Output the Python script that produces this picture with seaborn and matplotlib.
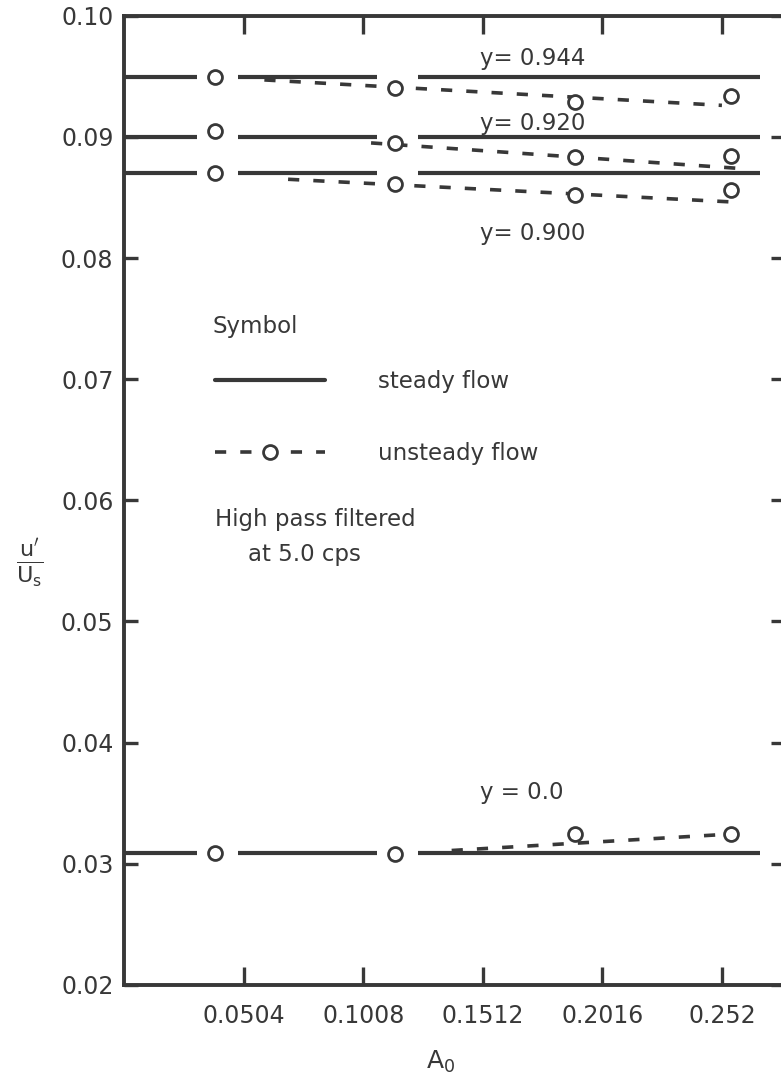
import numpy as np
import pandas as pd
import matplotlib
matplotlib.use("Agg")
import matplotlib.pyplot as plt
import seaborn as sns
from matplotlib.lines import Line2D

# Oscillation amplitude A0 at which the unsteady runs were measured
a0 = [0.038, 0.114, 0.190, 0.256]

# Probe positions
positions = ["0.944", "0.920", "0.900", "0.0"]
position_labels = ["y= 0.944", "y= 0.920", "y= 0.900", "y = 0.0"]
label_a0 = [0.150, 0.150, 0.150, 0.150]
label_u = [0.0965, 0.0911, 0.0820, 0.0359]

# Steady-flow turbulence intensity u'/Us at each position
steady = [0.0949, 0.0900, 0.0870, 0.0309]
steady_end_a0 = 0.268

# Unsteady-flow turbulence intensity u'/Us
unsteady_0944 = [0.0949, 0.0940, 0.0929, 0.0934]
unsteady_0920 = [0.0905, 0.0895, 0.0883, 0.0884]
unsteady_0900 = [0.0870, 0.0861, 0.0852, 0.0856]
unsteady_0000 = [0.0309, 0.0308, 0.0325, 0.0325]

# Straight trend lines drawn through the unsteady data
trend_start_a0 = [0.059, 0.104, 0.069, 0.138]
trend_end_a0 = [0.252, 0.259, 0.259, 0.251]
trend_start_u = [0.0947, 0.0895, 0.0865, 0.0311]
trend_end_u = [0.0926, 0.0874, 0.0846, 0.0324]

x_ticks = [0.0504, 0.1008, 0.1512, 0.2016, 0.252]
x_tick_labels = ["0.0504", "0.1008", "0.1512", "0.2016", "0.252"]
y_ticks = [0.02, 0.03, 0.04, 0.05, 0.06, 0.07, 0.08, 0.09, 0.10]
y_tick_labels = ["0.02", "0.03", "0.04", "0.05", "0.06", "0.07", "0.08", "0.09", "0.10"]

ink = "#383838"
dash = (0, (3.1, 3.9))

sns.set_theme(style="ticks")
plt.rcParams["font.family"] = ["DejaVu Sans"]
plt.rcParams["mathtext.fontset"] = "dejavusans"

fig = plt.figure(figsize=(7.81, 10.76), dpi=100, facecolor="white")
ax = fig.add_axes([0.1594, 0.0846, 0.8457, 0.9008])
ax.set_facecolor("white")

# steady-flow lines, interrupted where the unsteady symbols sit
gap_left, gap_right = 0.0075, 0.0100
breaks = a0[:2]
seg_start = [0.0] + [b + gap_right for b in breaks]
seg_end = [b - gap_left for b in breaks] + [steady_end_a0]
for level in steady:
    ax.hlines([level] * len(seg_start), seg_start, seg_end, color=ink,
              lw=3.0, capstyle="butt", zorder=2)

# unsteady trend lines
trend_df = pd.DataFrame({
    "A0": [v for pair in zip(trend_start_a0, trend_end_a0) for v in pair],
    "u": [v for pair in zip(trend_start_u, trend_end_u) for v in pair],
    "position": [p for p in positions for _ in range(2)],
})
sns.lineplot(data=trend_df, x="A0", y="u", units="position", estimator=None,
             sort=False, color=ink, lw=2.6, linestyle=dash, legend=False,
             ax=ax, zorder=3)

# unsteady data symbols
pts_df = pd.DataFrame({
    "A0": a0 * 4,
    "u": unsteady_0944 + unsteady_0920 + unsteady_0900 + unsteady_0000,
    "position": [p for p in positions for _ in a0],
})
sns.scatterplot(data=pts_df, x="A0", y="u", marker="o", s=100, color="white",
                edgecolor=ink, linewidth=2.0, legend=False, ax=ax, zorder=4)

for txt, xa, yu in zip(position_labels, label_a0, label_u):
    ax.text(xa, yu, txt, ha="left", va="center", fontsize=16.5, color=ink)

ax.set_xlim(0, 0.2786)
ax.set_ylim(0.02, 0.10)
ax.set_xticks(x_ticks)
ax.set_xticklabels(x_tick_labels)
ax.set_yticks(y_ticks)
ax.set_yticklabels(y_tick_labels)
ax.tick_params(axis="x", direction="in", length=13, width=2.4, color=ink,
               top=True, pad=14, labelsize=17, labelcolor=ink)
ax.tick_params(axis="y", direction="in", length=10, width=2.4, color=ink,
               right=True, pad=8, labelsize=17, labelcolor=ink)
for side in ["left", "bottom", "top", "right"]:
    ax.spines[side].set_linewidth(2.8)
    ax.spines[side].set_color(ink)

ax.set_xlabel(r"$\mathregular{A_0}$", fontsize=18, color=ink)
ax.xaxis.set_label_coords(0.478, -0.079)
ax.xaxis.label.set_va("center")
ax.set_ylabel(r"$\frac{\mathrm{u'}}{\mathrm{U_s}}$", fontsize=23, color=ink,
              rotation=0)
ax.yaxis.set_label_coords(-0.143, 0.436)
ax.yaxis.label.set_va("center")
ax.yaxis.label.set_ha("center")

# key
ax.text(0.134, 0.679, "Symbol", transform=ax.transAxes, ha="left",
        va="center", fontsize=16.5, color=ink)
handles = [
    Line2D([], [], color=ink, lw=3.0),
    Line2D([], [], color=ink, lw=2.6, linestyle=dash, marker="o", ms=10,
           mfc="white", mec=ink, mew=2.0),
]
leg = ax.legend(handles, ["steady flow", "unsteady flow"], loc="upper left",
                bbox_to_anchor=(0.137, 0.634), frameon=False, fontsize=16.5,
                handlelength=4.8, handletextpad=2.3, labelspacing=2.1,
                borderpad=0, borderaxespad=0, numpoints=1)
for t in leg.get_texts():
    t.set_color(ink)
ax.text(0.137, 0.480, "High pass filtered", transform=ax.transAxes,
        ha="left", va="center", fontsize=16.5, color=ink)
ax.text(0.187, 0.444, "at 5.0 cps", transform=ax.transAxes,
        ha="left", va="center", fontsize=16.5, color=ink)

fig.savefig("out.png", dpi=100, facecolor="white")
